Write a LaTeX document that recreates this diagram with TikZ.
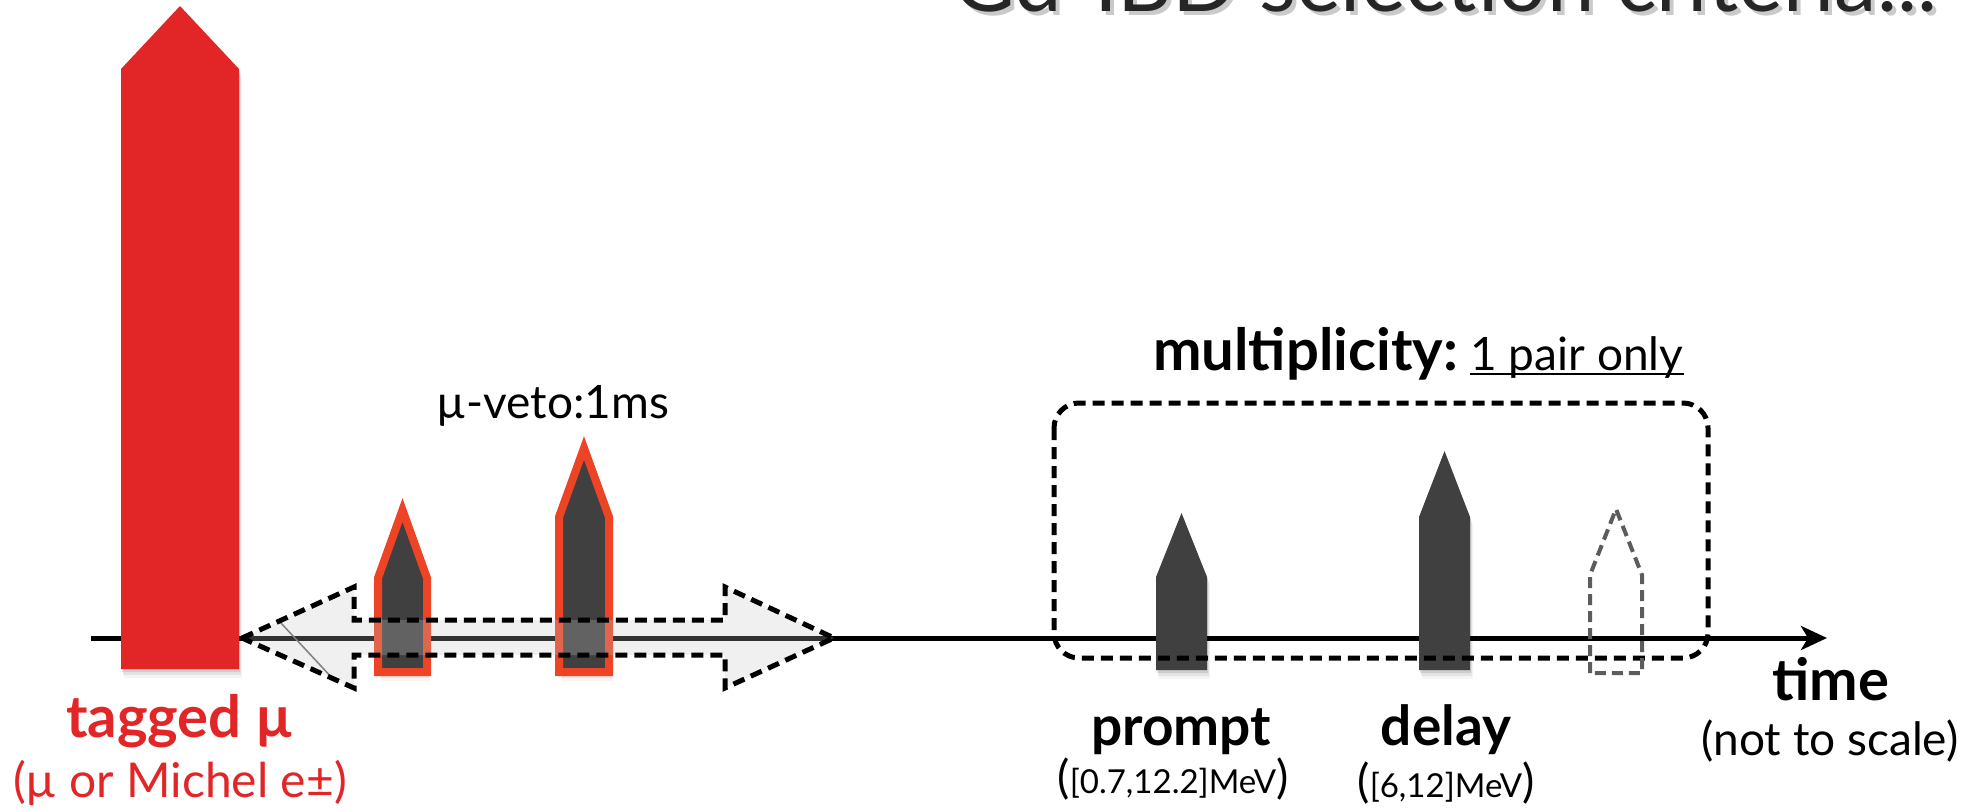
\documentclass[tikz,border=0pt]{standalone}
\usepackage{fontspec}
\setmainfont{Lato}
\usetikzlibrary{arrows.meta}
\definecolor{murred}{HTML}{E22526}
\definecolor{spikegray}{HTML}{404040}
\definecolor{vetoedge}{HTML}{EC4424}
\definecolor{ghostgray}{HTML}{5C5C5C}
\newcommand{\fs}[1]{\fontsize{#1}{#1}\selectfont}
\tikzset{
  softshadow/.style={
    preaction={fill=black, fill opacity=0.10, draw=none, transform canvas={xshift=1pt,yshift=-3pt}},
    preaction={fill=black, fill opacity=0.07, draw=none, transform canvas={xshift=2pt,yshift=-6pt}},
    preaction={fill=black, fill opacity=0.04, draw=none, transform canvas={xshift=3pt,yshift=-9pt}}},
  signal/.style={fill=spikegray, softshadow},
  vetosignal/.style={fill=spikegray, draw=vetoedge, line width=8pt, softshadow},
  musignal/.style={fill=murred, softshadow},
  ghostsignal/.style={draw=ghostgray, line width=4pt, dash pattern=on 11pt off 6pt},
  window/.style={draw=black, line width=5pt, dash pattern=on 12pt off 7pt},
  axisline/.style={line width=5pt, -{Stealth[length=26pt,width=24pt,inset=7pt]}},
  boldlbl/.style={inner sep=0pt, anchor=base, font=\fs{55}\bfseries},
  thinlbl/.style={inner sep=0pt, anchor=base, font=\fs{46}},
}
\begin{document}
\begin{tikzpicture}[x=1pt, y=-1pt]
\useasboundingbox (0,0) rectangle (1980,811);
\clip (0,0) rectangle (1980,811);

% slide title (only its lower part lies inside the frame)
\node[inner sep=0pt, anchor=base west, font=\fs{85}, text=black!35, opacity=0.6] (titleshadow) at (957,16) {Gd-IBD selection criteria...};
\node[inner sep=0pt, anchor=base west, font=\fs{85}, text=black!85] (title) at (953,11) {Gd-IBD selection criteria...};

% time axis
\coordinate (axisL) at (91,638);
\coordinate (axisR) at (1827,638);
\draw[axisline] (axisL) -- (axisR);

% tagged muon
\path[musignal] (121,669) -- (121,69) -- (180,6) -- (239,69) -- (239,669) -- cycle;

% signals inside the muon veto
\path[vetosignal] (378,672) -- (378,578) -- (402.5,510) -- (427,578) -- (427,672) -- cycle;
\path[vetosignal] (559,672) -- (559,517) -- (584,448) -- (609,517) -- (609,672) -- cycle;

% prompt and delayed signals
\path[signal] (1156,670) -- (1156,577) -- (1181.5,513) -- (1207,577) -- (1207,670) -- cycle;
\path[signal] (1419,670) -- (1419,517) -- (1444.5,451) -- (1470,517) -- (1470,670) -- cycle;

% muon veto window (double arrow)
\path[fill=black!23, fill opacity=0.26]
  (242,638) -- (354,587) -- (354,620) -- (725,620) -- (725,587) -- (834,638)
  -- (725,688) -- (725,655) -- (354,655) -- (354,688) -- cycle;
\draw[gray, line width=1.5pt] (280,622) -- (334,680);
\draw[window, line join=miter]
  (242,638) -- (354,587) -- (354,620) -- (725,620) -- (725,587) -- (834,638)
  -- (725,688) -- (725,655) -- (354,655) -- (354,688) -- cycle;

% multiplicity window
\draw[window, rounded corners=25pt] (1054,403) rectangle (1708,658);

% excluded third signal
\draw[ghostsignal] (1590,673) -- (1590,575) -- (1616,509) -- (1642,575) -- (1642,673) -- cycle;

% labels
\node[thinlbl] (veto) at (553,418) {µ-veto:1ms};
\node[inner sep=0pt, anchor=base west, font=\fs{58}\bfseries] (mult) at (1153,370) {multiplicity:};
\node[inner sep=0pt, anchor=base west, font=\fs{46}] (pair) at ([xshift=12pt]mult.base east) {1 pair only};
\draw[line width=2.5pt] ([yshift=-4pt]pair.base west) -- ([yshift=-4pt]pair.base east);

\node[boldlbl, text=murred, font=\fs{58}\bfseries] (tag) at (180,737) {tagged µ};
\node[thinlbl, text=murred, font=\fs{48}] (tagsub) at (180,797) {(µ or Michel e±)};

\node[boldlbl] (prompt) at (1181,745) {prompt};
\node[inner sep=0pt, anchor=base] (promptE) at (1173,793)
  {{\fs{46}(}{\fs{33}[0.7,12.2]MeV}{\fs{46})}};
\node[boldlbl] (delay) at (1446,745) {delay};
\node[inner sep=0pt, anchor=base] (delayE) at (1446,797)
  {{\fs{46}(}{\fs{33}[6,12]MeV}{\fs{46})}};

\node[boldlbl, font=\fs{58}\bfseries] (time) at (1831,700) {time};
\node[thinlbl] (scale) at (1830,755) {(not to scale)};
\end{tikzpicture}
\end{document}
